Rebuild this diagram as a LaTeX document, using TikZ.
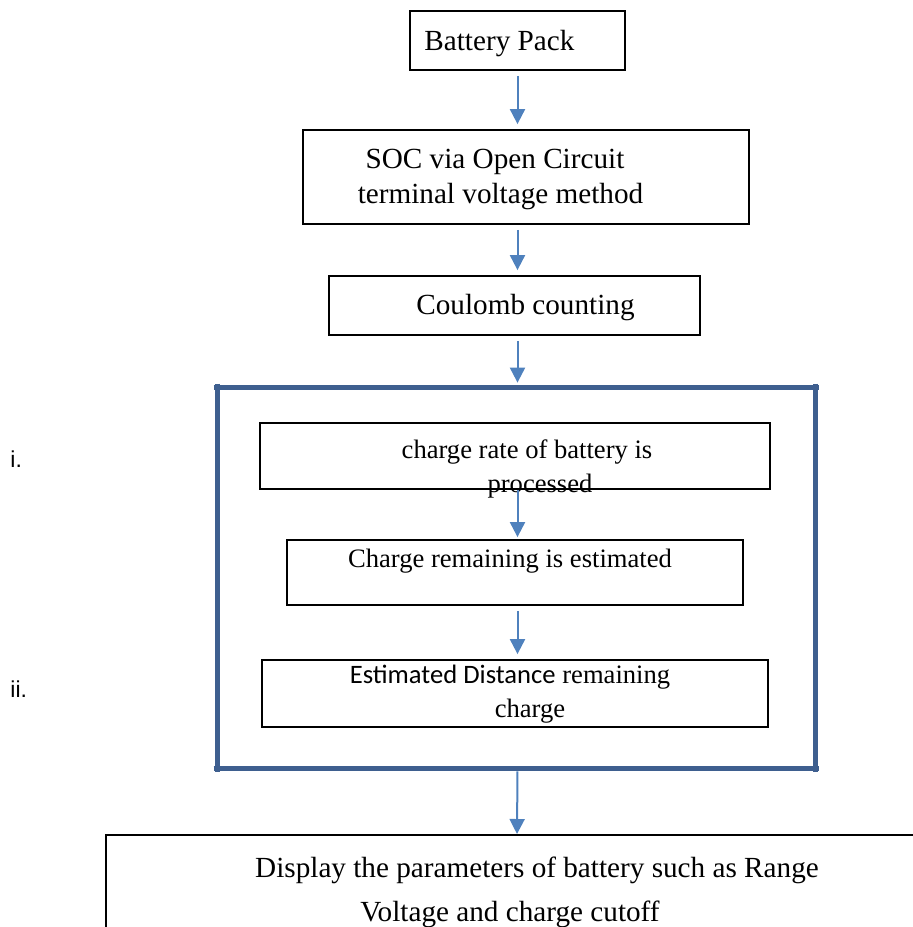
\documentclass[tikz,border=0pt]{standalone}
\usepackage{fontspec}
\setmainfont{Liberation Serif}
\newfontfamily\calibri{Carlito}
\newfontfamily\arialfont{Liberation Sans}
\usepackage{xcolor}
\usepackage{tikz}
\usetikzlibrary{
  positioning,
  arrows.meta
}
\definecolor{arrowblue}{HTML}{4F81BD}
\definecolor{frameblue}{HTML}{3E5F8F}

\begin{document}
\begin{tikzpicture}[
    x=0.5pt, y=-0.5pt,
    > = {Triangle[width=7.5pt, length=7.5pt]},
    box/.style={draw, line width=0.9pt, inner sep=0pt},
    frameline/.style={frameblue, line width=2.8pt, shorten <=-2pt, shorten >=-2pt},
    flow/.style={->, arrowblue, line width=1pt, shorten <=2.5pt, shorten >=2.5pt},
    big/.style={font=\fontsize{14.6}{18.5}\selectfont, inner sep=0pt, anchor=base},
    small/.style={font=\fontsize{13.3}{16}\selectfont, inner sep=0pt, anchor=base}
]
    \useasboundingbox (0,0) rectangle (912,927);

    % 外框
    \node[minimum width=298.5pt, minimum height=190pt, inner sep=0pt] (frame) at (516.5,578) {};
    \draw[frameline] (frame.north west) -- (frame.north east);
    \draw[frameline] (frame.south west) -- (frame.south east);
    \draw[frameline] (frame.north west) -- (frame.south west);
    \draw[frameline] (frame.north east) -- (frame.south east);

    % 方框
    \node[box, minimum width=107.5pt, minimum height=29.5pt] (pack) at (517.5,40.5) {};
    \node[box, minimum width=223pt, minimum height=47pt] (soc) at (526,177) {};
    \node[box, minimum width=185.5pt, minimum height=29.5pt] (cc) at (514.5,305.5) {};
    \node[box, minimum width=255pt, minimum height=33pt] (rate) at (515,456) {};
    \node[box, minimum width=228pt, minimum height=32.5pt] (rem) at (515,572.5) {};
    \node[box, minimum width=253pt, minimum height=33.5pt] (dist) at (515,693.5) {};
    \draw[line width=0.9pt] (106,927) |- (915,835) coordinate (dispedge);
    \coordinate (disptop) at (517,835);

    % 文字
    \node[big, anchor=base west] (packtxt) at (424,50) {Battery Pack};
    \node[big] (soctxta) at (495,168) {SOC via Open Circuit};
    \node[big] (soctxtb) at (500.5,203) {terminal voltage method};
    \node[big] (cctxt) at (525.5,314) {Coulomb counting};
    \node[small] (ratetxta) at (527,458) {charge rate of battery is};
    \node[small] (ratetxtb) at (540,492) {processed};
    \node[small] (remtxt) at (510,567) {Charge remaining is estimated};
    \node[small] (disttxta) at (510,683) {{\calibri Estimated Distance} remaining};
    \node[small] (disttxtb) at (530,717) {charge};
    \node[big] (disptxta) at (537,877) {Display the parameters of battery such as Range};
    \node[big] (disptxtb) at (510,921) {Voltage and charge cutoff};

    % 编号
    \node[font=\arialfont\fontsize{11.5}{14}\selectfont, inner sep=0pt, anchor=base west] (numi) at (10,467) {i.};
    \node[font=\arialfont\fontsize{11.5}{14}\selectfont, inner sep=0pt, anchor=base west] (numii) at (10,697) {ii.};

    % 箭头
    \draw[flow] (pack.south) -- (pack.south |- soc.north);
    \draw[flow] (pack.south |- soc.south) -- (pack.south |- cc.north);
    \draw[flow] (pack.south |- cc.south) -- (pack.south |- frame.north);
    \draw[flow, shorten <=0pt, shorten >=1pt] (pack.south |- rate.south) -- (pack.south |- rem.north);
    \draw[flow] (pack.south |- rem.south) -- (pack.south |- dist.north);
    \draw[flow, shorten <=1.5pt, shorten >=0.5pt] (pack.south |- frame.south) -- (disptop);
\end{tikzpicture}
\end{document}
